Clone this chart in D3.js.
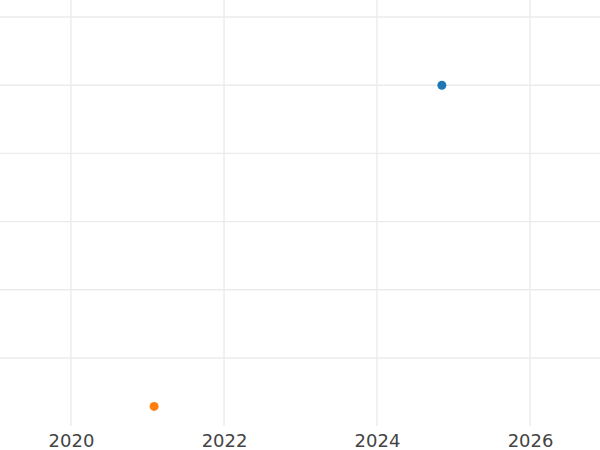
<!DOCTYPE html>
<html>
<head>
<meta charset="utf-8">
<script src="https://cdn.jsdelivr.net/npm/d3@7"></script>
<style>
  html, body { margin: 0; padding: 0; background: #fff; }
  svg { display: block; }
</style>
</head>
<body>
<div id="chart"></div>
<script>
// ---- data ----
const seriesNames = ["A", "B"];
const seriesDates = ["2024-11-06", "2021-02-01"];
const seriesValues = [4, -0.71];
const seriesColors = ["#1f77b4", "#ff7f0e"];
const xTickYears = [2020, 2022, 2024, 2026];
const yTickValues = [0, 1, 2, 3, 4, 5];

const W = 600, H = 450;
const plotTop = 0, plotBottom = 426, plotLeft = 0, plotRight = 600;

const parse = d3.timeParse("%Y-%m-%d");
const points = seriesNames.map((n, i) => ({
  name: n, date: parse(seriesDates[i]), value: seriesValues[i], color: seriesColors[i]
}));

// x: 2020 -> 71px, 2026 -> 530px
const pxPerYear = (530 - 71) / 6;
const yearToDate = y => {
  const yr = Math.floor(y);
  const start = new Date(yr, 0, 1), end = new Date(yr + 1, 0, 1);
  return new Date(+start + (y - yr) * (end - start));
};
const x = d3.scaleTime()
  .domain([yearToDate(2020 - 71 / pxPerYear), yearToDate(2020 + (600 - 71) / pxPerYear)])
  .range([plotLeft, plotRight]);

// y: 0 -> 358px, 5 -> 17px
const yStep = (358 - 17) / 5;
const y = d3.scaleLinear()
  .domain([-(plotBottom - 358) / yStep, 5 + 17 / yStep])
  .range([plotBottom, plotTop]);

const svg = d3.select("#chart").append("svg")
  .attr("width", W).attr("height", H);

// horizontal gridlines
svg.append("g").selectAll("line").data(yTickValues).join("line")
  .attr("x1", plotLeft).attr("x2", plotRight)
  .attr("y1", d => y(d)).attr("y2", d => y(d))
  .attr("stroke", "#ebebeb").attr("stroke-width", 1.4);

// vertical gridlines
const xTicks = xTickYears.map(yr => new Date(yr, 0, 1));
svg.append("g").selectAll("line").data(xTicks).join("line")
  .attr("x1", d => x(d)).attr("x2", d => x(d))
  .attr("y1", plotTop).attr("y2", plotBottom)
  .attr("stroke", "#ebebeb").attr("stroke-width", 1.4);

// x axis labels
const xAxis = d3.axisBottom(x).tickValues(xTicks).tickFormat(d3.timeFormat("%Y")).tickSize(0).tickPadding(8.5);
const gx = svg.append("g").attr("transform", `translate(0,${plotBottom})`).call(xAxis);
gx.select(".domain").remove();
gx.selectAll("text")
  .attr("font-family", "DejaVu Sans, sans-serif")
  .attr("font-size", 18)
  .attr("fill", "#444");

// points
svg.append("g").selectAll("circle").data(points).join("circle")
  .attr("cx", d => x(d.date)).attr("cy", d => y(d.value))
  .attr("r", 4.5).attr("fill", d => d.color);
</script>
</body>
</html>
